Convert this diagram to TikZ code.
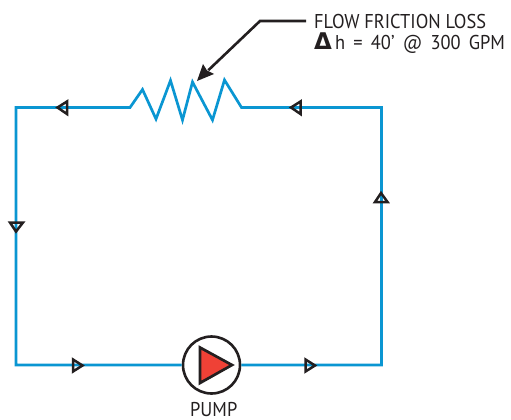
\documentclass[tikz,border=0pt]{standalone}
\usepackage{fontspec}
\usetikzlibrary{calc}
\setmainfont[FakeStretch=0.92]{PT Sans}
\newfontfamily\deltafont{DejaVu Sans Bold}
\newcommand{\gapword}{\hspace{8.2pt}}
\definecolor{pipe}{HTML}{0A96D2}
\definecolor{ink}{HTML}{231F20}
\definecolor{pumpred}{HTML}{EF4136}
\tikzset{
  pipeline/.style={draw=pipe,line width=2.7pt,line join=miter},
  flowmark/.style={draw=ink,line width=2.5pt,line join=miter},
  lbl/.style={text=ink,font=\fontsize{20}{20}\selectfont,inner sep=0pt,anchor=base west},
}
\begin{document}
\begin{tikzpicture}[x=1pt,y=-1pt]
\useasboundingbox (0,0) rectangle (511,420);
% corners and resistor ends
\coordinate (tl) at (16,107.5);
\coordinate (tr) at (381.5,107.5);
\coordinate (bl) at (16,365);
\coordinate (br) at (381.5,365);
\coordinate (za) at (130,107.5);
\coordinate (zb) at (241.5,107.5);
\node[circle,draw=ink,line width=2.6pt,fill=white,minimum size=57pt,inner sep=0pt] (pump) at (211.5,365) {};
\draw[pipeline] (pump.east) -- (br) -- (tr) -- (zb)
  -- (224.5,80) -- (212.5,120) -- (192.5,82) -- (182.5,120) -- (170.5,80.5) -- (156,119) -- (142.5,89.5) -- (za)
  -- (tl) -- (bl) -- (pump.west);
\draw[draw=ink,line width=2.7pt,fill=pumpred,line join=miter] (200,347.5) -- (232,365) -- (200,383) -- cycle;
% flow markers
\draw[flowmark] (300.5,101.5) -- (291,107.5) -- (300.5,114) -- cycle;
\draw[flowmark] (67,101.5) -- (57.5,107.5) -- (67,114) -- cycle;
\draw[flowmark] (10,222.5) -- (16,231.5) -- (23,222.5) -- cycle;
\draw[flowmark] (73,359.5) -- (82.5,365.5) -- (73,371.5) -- cycle;
\draw[flowmark] (305.5,359.5) -- (315,365.5) -- (305.5,371.5) -- cycle;
\draw[flowmark] (375,202) -- (381,193) -- (387.5,202) -- cycle;
% texts
\node[lbl] (t1) at (314,28.5) {FLOW FRICTION LOSS};
\node[lbl] (t2) at (314,50) {\hbox to 21pt{\deltafont\fontsize{23}{23}\selectfont Δ\hss}h\gapword=\gapword 40'\gapword @\gapword 300\gapword GPM};
\node[lbl] (pl) at (190,416.5) {PUMP};
% leader
\coordinate (lead) at (306,21);
\coordinate (knee) at (260,21);
\coordinate (tip) at (197,81);
\draw[draw=ink,line width=2.6pt] (lead) -- (knee) -- ($(knee)!0.82!(tip)$);
\path[fill=ink] (tip) -- (203,64) -- (207,70.5) -- (214,74) -- cycle;
\end{tikzpicture}
\end{document}
